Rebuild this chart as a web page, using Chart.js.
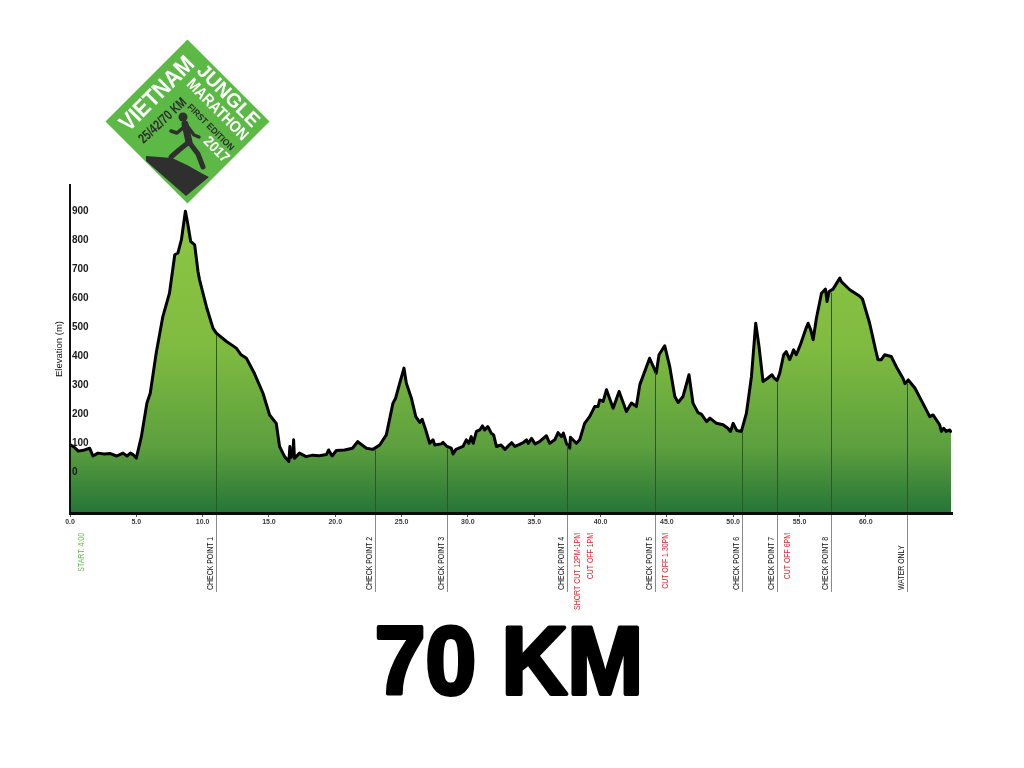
<!DOCTYPE html>
<html>
<head>
<meta charset="utf-8">
<title>Vietnam Jungle Marathon 2017 – 70 KM elevation profile</title>
<script src="https://cdn.jsdelivr.net/npm/chart.js@4/dist/chart.umd.min.js"></script>
<style>
  html, body { margin: 0; padding: 0; background: #ffffff; }
  canvas { display: block; }
</style>
</head>
<body>
<canvas id="profile" width="1024" height="768"></canvas>
<script>
// Course profile: distance along the route (km) and elevation (m)
const distanceKm = [
  0, 0.35, 0.63, 1.1, 1.48, 1.73, 2.1, 2.6, 3.0, 3.5,
  4.0, 4.3, 4.55, 4.8, 5.0, 5.38, 5.8, 6.05, 6.5, 7.0,
  7.5, 7.9, 8.14, 8.4, 8.7, 8.85, 9.1, 9.4, 9.65, 9.77,
  10.28, 10.78, 11.03, 11.8, 12.54, 12.9, 13.3, 13.9, 14.55, 15.05,
  15.55, 15.8, 16.18, 16.5, 16.58, 16.65, 16.8, 16.86, 16.92, 17.3,
  17.8, 18.3, 18.8, 19.33, 19.5, 19.76, 20.08, 20.7, 21.3, 21.7,
  21.84, 22.35, 22.84, 23.35, 23.85, 24.35, 24.55, 24.86, 25.18, 25.36,
  25.74, 26.07, 26.37, 26.55, 26.82, 27.12, 27.37, 27.5, 28.0, 28.13,
  28.42, 28.75, 28.88, 29.1, 29.63, 29.88, 30.08, 30.25, 30.4, 30.64,
  30.9, 31.1, 31.27, 31.5, 31.76, 31.94, 32.15, 32.5, 32.8, 33.05,
  33.3, 33.55, 33.9, 34.17, 34.42, 34.55, 34.8, 35.06, 35.4, 35.92,
  36.17, 36.55, 36.8, 37.05, 37.2, 37.43, 37.68, 37.73, 38.18, 38.43,
  38.8, 39.18, 39.56, 39.81, 39.94, 40.2, 40.45, 40.95, 41.4, 41.95,
  42.33, 42.7, 42.96, 43.7, 44.09, 44.2, 44.41, 44.84, 45.22, 45.6,
  45.85, 46.22, 46.67, 46.97, 47.35, 47.6, 48.0, 48.25, 48.74, 49.24,
  49.6, 49.8, 50.0, 50.28, 50.62, 51.0, 51.38, 51.7, 51.95, 52.25,
  52.6, 52.93, 53.1, 53.31, 53.51, 53.81, 54.0, 54.26, 54.56, 54.76,
  55.07, 55.45, 55.65, 55.85, 56.03, 56.28, 56.66, 56.96, 57.08, 57.23,
  57.53, 58.04, 58.16, 58.79, 59.55, 59.75, 60.29, 60.74, 60.92, 61.17,
  61.42, 61.92, 62.3, 62.8, 62.96, 63.2, 63.7, 64.3, 64.82, 65.07,
  65.57, 65.7, 65.87, 66.07, 66.33, 66.45
];
const elevationM = [
  95, 84, 72, 76, 82, 55, 65, 62, 64, 55,
  65, 55, 65, 58, 48, 122, 238, 272, 411, 537,
  618, 751, 757, 803, 901, 866, 797, 785, 693, 664,
  572, 497, 480, 451, 428, 405, 393, 341, 272, 197,
  168, 88, 53, 36, 88, 50, 60, 111, 47, 65,
  53, 58, 56, 60, 76, 55, 74, 76, 82, 105,
  99, 82, 78, 93, 128, 238, 255, 307, 359, 307,
  255, 191, 171, 182, 145, 99, 111, 93, 97, 102,
  88, 82, 62, 78, 88, 111, 99, 122, 99, 140,
  145, 159, 145, 157, 134, 128, 88, 93, 78, 90,
  101, 88, 95, 101, 111, 99, 116, 97, 105, 125,
  99, 111, 136, 122, 134, 99, 82, 120, 99, 111,
  168, 191, 226, 226, 249, 244, 284, 220, 278, 209,
  238, 226, 301, 393, 353, 341, 405, 436, 364, 261,
  240, 261, 336, 238, 205, 200, 174, 186, 168, 163,
  151, 140, 168, 143, 140, 203, 330, 514, 434, 313,
  324, 336, 324, 316, 341, 405, 416, 388, 422, 405,
  440, 491, 514, 491, 457, 532, 618, 632, 589, 624,
  632, 670, 658, 630, 607, 598, 514, 422, 388, 388,
  405, 399, 364, 324, 305, 318, 290, 238, 191, 197,
  163, 140, 151, 140, 145, 136
];

// Axis ticks
const xTickKm = [0, 5, 10, 15, 20, 25, 30, 35, 40, 45, 50, 55, 60];
const yTickM = [0, 100, 200, 300, 400, 500, 600, 700, 800, 900];

// Aid stations along the course
const checkpointKm = [11.03, 22.97, 28.42, 37.45, 44.11, 50.65, 53.31, 57.34, 63.07];
const checkpointNames = ['CHECK POINT 1', 'CHECK POINT 2', 'CHECK POINT 3', 'CHECK POINT 4',
  'CHECK POINT 5', 'CHECK POINT 6', 'CHECK POINT 7', 'CHECK POINT 8', 'WATER ONLY'];

// Time limits attached to checkpoints
const noteCheckpoint = ['CHECK POINT 4', 'CHECK POINT 4', 'CHECK POINT 5', 'CHECK POINT 7'];
const noteText = ['SHORT CUT 12PM-1PM', 'CUT OFF 1PM', 'CUT OFF 1.30PM', 'CUT OFF 6PM'];

const startKm = 0;
const startText = 'START: 4:00';
const raceTitle = '70 KM';

const FONT = "'Liberation Sans', Arial, sans-serif";

function elevationAt(km) {
  for (let i = 1; i < distanceKm.length; i++) {
    if (distanceKm[i] >= km) {
      const t = (km - distanceKm[i - 1]) / (distanceKm[i] - distanceKm[i - 1]);
      return elevationM[i - 1] + t * (elevationM[i] - elevationM[i - 1]);
    }
  }
  return elevationM[elevationM.length - 1];
}

// vertical label, reading bottom-to-top; x is the baseline position
function verticalText(ctx, text, x, y, align, color) {
  ctx.save();
  ctx.translate(x, y);
  ctx.rotate(-Math.PI / 2);
  ctx.scale(0.73, 1);
  ctx.font = '9.5px ' + FONT;
  ctx.fillStyle = color;
  ctx.textAlign = align;
  ctx.textBaseline = 'alphabetic';
  ctx.fillText(text, 0, 0);
  ctx.restore();
}

// bold text squeezed to a given length and cap height, rotated about its centre
function fitText(ctx, text, cx, cy, deg, capH, len, color) {
  const size = capH / 0.716;
  ctx.save();
  ctx.font = 'bold ' + size + 'px ' + FONT;
  const w = ctx.measureText(text).width;
  ctx.translate(cx, cy);
  ctx.rotate(deg * Math.PI / 180);
  ctx.scale(len / w, 1);
  ctx.fillStyle = color;
  ctx.textAlign = 'center';
  ctx.textBaseline = 'alphabetic';
  ctx.fillText(text, 0, capH / 2);
  ctx.restore();
}

function drawLogo(ctx) {
  const cx = 187.5, cy = 121.5, r = 82;
  ctx.save();
  ctx.fillStyle = '#5cb946';
  ctx.beginPath();
  ctx.moveTo(cx, cy - r);
  ctx.lineTo(cx + r, cy);
  ctx.lineTo(cx, cy + r);
  ctx.lineTo(cx - r, cy);
  ctx.closePath();
  ctx.fill();

  // hillside
  ctx.fillStyle = '#2f2f2f';
  ctx.beginPath();
  ctx.moveTo(146, 156);
  ctx.lineTo(172, 158);
  ctx.lineTo(187, 165);
  ctx.lineTo(203, 174);
  ctx.lineTo(209, 177);
  ctx.lineTo(186, 196);
  ctx.lineTo(146, 161);
  ctx.closePath();
  ctx.fill();

  // runner
  ctx.strokeStyle = '#2f2f2f';
  ctx.lineCap = 'round';
  ctx.lineJoin = 'round';
  ctx.beginPath();
  ctx.arc(183, 117, 4.5, 0, Math.PI * 2);
  ctx.fill();
  ctx.lineWidth = 7;
  ctx.beginPath();
  ctx.moveTo(185, 124);
  ctx.lineTo(189, 142);
  ctx.stroke();
  ctx.lineWidth = 3.5;
  ctx.beginPath();
  ctx.moveTo(185, 126);
  ctx.lineTo(177, 133);
  ctx.lineTo(171, 131);
  ctx.moveTo(188, 127);
  ctx.lineTo(194, 135);
  ctx.lineTo(199, 137);
  ctx.stroke();
  ctx.lineWidth = 5;
  ctx.beginPath();
  ctx.moveTo(189, 142);
  ctx.lineTo(179, 150);
  ctx.lineTo(171, 157);
  ctx.moveTo(189, 142);
  ctx.lineTo(198, 154);
  ctx.lineTo(203, 167);
  ctx.stroke();

  fitText(ctx, 'VIETNAM', 156, 93, -45, 17, 95, '#ffffff');
  fitText(ctx, 'JUNGLE', 229, 95, 45, 14, 80, '#ffffff');
  fitText(ctx, 'MARATHON', 218, 109, 45, 11.5, 80, '#ffffff');
  fitText(ctx, 'FIRST EDITION', 211, 127, 45, 6.5, 62, '#2d2d2d');
  fitText(ctx, '2017', 217, 149, 45, 10.5, 30, '#ffffff');
  fitText(ctx, '25/42/70 KM', 162, 120, -43, 10, 60, '#2d2d2d');
  ctx.restore();
}

const checkpointLines = {
  id: 'checkpointLines',
  afterDatasetsDraw(chart) {
    const { ctx, chartArea } = chart;
    const x = chart.scales.x, y = chart.scales.y;
    ctx.save();
    ctx.lineWidth = 1;
    checkpointKm.forEach(km => {
      const px = Math.round(x.getPixelForValue(km)) + 0.5;
      const top = y.getPixelForValue(elevationAt(km)) + 2;
      ctx.strokeStyle = '#2a5a22';
      ctx.beginPath();
      ctx.moveTo(px, top);
      ctx.lineTo(px, chartArea.bottom);
      ctx.stroke();
      ctx.strokeStyle = '#8a8a8a';
      ctx.beginPath();
      ctx.moveTo(px, chartArea.bottom);
      ctx.lineTo(px, chartArea.bottom + 79);
      ctx.stroke();
    });
    ctx.restore();
  },
  afterDraw(chart) {
    const { ctx, chartArea } = chart;
    const x = chart.scales.x;
    const labelBottom = chartArea.bottom + 77;
    const labelTop = chartArea.bottom + 20;

    checkpointKm.forEach((km, i) => {
      const px = Math.round(x.getPixelForValue(km)) + 0.5;
      verticalText(ctx, checkpointNames[i], px - 3.5, labelBottom, 'left', '#111111');
    });

    const used = {};
    noteText.forEach((t, i) => {
      const cp = noteCheckpoint[i];
      const km = checkpointKm[checkpointNames.indexOf(cp)];
      const n = used[cp] || 0;
      used[cp] = n + 1;
      const px = Math.round(x.getPixelForValue(km)) + 0.5;
      verticalText(ctx, t, px + 12 + n * 13, labelTop, 'right', '#e3262e');
    });

    verticalText(ctx, startText, x.getPixelForValue(startKm) + 14, labelTop, 'right', '#62bb4a');

    // race distance title
    ctx.save();
    ctx.translate(509, 694);
    ctx.scale(0.95, 1);
    ctx.font = 'bold 96px ' + FONT;
    ctx.textAlign = 'center';
    ctx.textBaseline = 'alphabetic';
    ctx.fillStyle = '#000000';
    ctx.strokeStyle = '#000000';
    ctx.lineWidth = 4;
    ctx.lineJoin = 'round';
    ctx.fillText(raceTitle, 0, 0);
    ctx.strokeText(raceTitle, 0, 0);
    ctx.restore();

    drawLogo(ctx);
  }
};

const ctx = document.getElementById('profile').getContext('2d');

new Chart(ctx, {
  type: 'line',
  data: {
    datasets: [{
      label: 'Elevation',
      data: distanceKm.map((d, i) => ({ x: d, y: elevationM[i] })),
      borderColor: '#000000',
      borderWidth: 3,
      borderJoinStyle: 'round',
      pointRadius: 0,
      tension: 0,
      fill: 'start',
      backgroundColor: (c) => {
        const area = c.chart.chartArea;
        if (!area) return '#7cb940';
        const g = c.chart.ctx.createLinearGradient(0, area.top, 0, area.bottom);
        g.addColorStop(0, '#90c941');
        g.addColorStop(0.5, '#7fbb40');
        g.addColorStop(0.8, '#5c9f3e');
        g.addColorStop(1, '#257537');
        return g;
      }
    }]
  },
  options: {
    responsive: false,
    animation: false,
    layout: { padding: { top: 185, right: 72, bottom: 0, left: 0 } },
    plugins: {
      legend: { display: false },
      tooltip: { enabled: false },
      title: { display: false }
    },
    scales: {
      x: {
        type: 'linear',
        min: 0,
        max: 66.5,
        afterBuildTicks: (s) => { s.ticks = xTickKm.map(v => ({ value: v })); },
        afterFit: (s) => { s.height = 255; },
        grid: { display: true, drawOnChartArea: false, drawTicks: true, tickLength: 4, color: '#555555', lineWidth: 1 },
        border: { display: true, color: '#0b0b0b', width: 3, z: 2 },
        ticks: {
          autoSkip: false,
          maxRotation: 0,
          padding: 1,
          color: '#3a3a3a',
          font: { family: FONT, size: 7, weight: 'bold' },
          callback: (v) => Number(v).toFixed(1)
        }
      },
      y: {
        type: 'linear',
        min: -142,
        max: 992,
        afterBuildTicks: (s) => { s.ticks = yTickM.map(v => ({ value: v })); },
        afterFit: (s) => { s.width = 70; },
        grid: { display: false },
        border: { display: true, color: '#111111', width: 2, z: 2 },
        ticks: {
          z: 2,
          mirror: true,
          padding: 2,
          autoSkip: false,
          color: '#1a1a1a',
          font: { family: FONT, size: 10, weight: 'bold' }
        },
        title: {
          display: true,
          text: 'Elevation (m)',
          color: '#111111',
          font: { family: FONT, size: 9.5 },
          padding: { top: 54, bottom: 0 }
        }
      }
    }
  },
  plugins: [checkpointLines]
});
</script>
</body>
</html>
